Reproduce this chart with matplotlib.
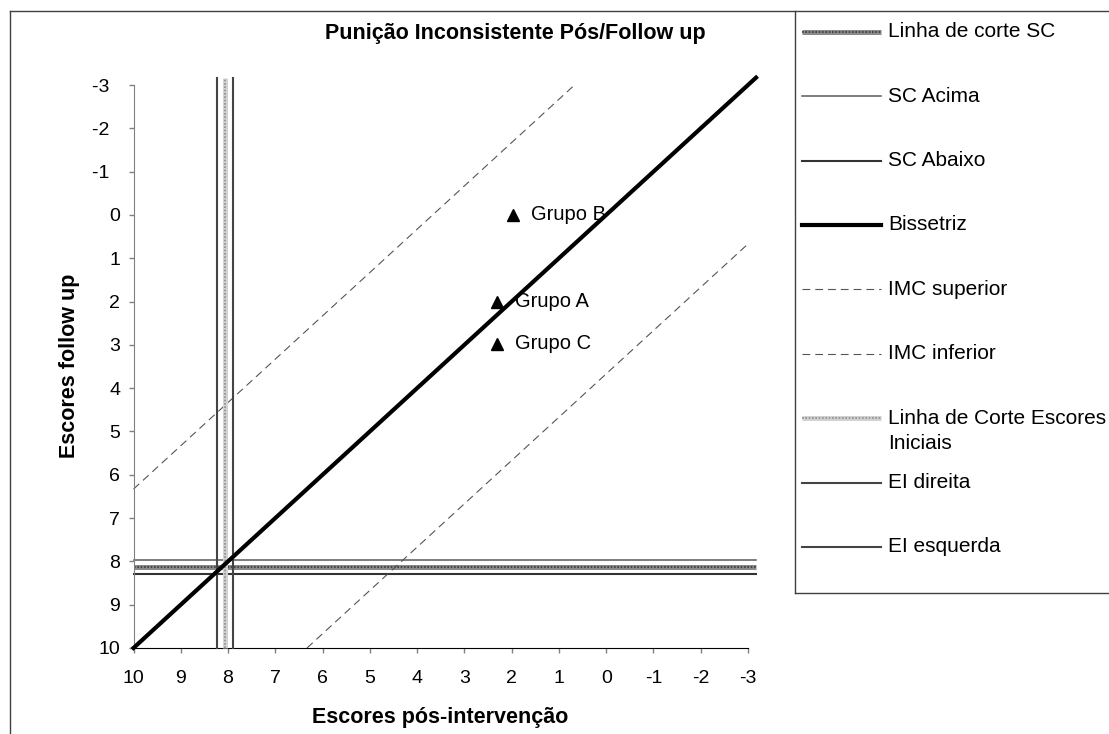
import numpy as np
import matplotlib
matplotlib.use('Agg')
import matplotlib.pyplot as plt
from matplotlib.lines import Line2D
from matplotlib.ticker import FuncFormatter

plt.rcParams['font.family'] = ['Liberation Sans', 'DejaVu Sans']

W, H = 1109, 734

# --- values ---
axis_min, axis_max = -3, 10
line_end = -3.17          # reference lines run a little past the last tick
sc_cut = 8.12             # Linha de corte SC
sc_above = 7.96           # SC Acima
sc_below = 8.28           # SC Abaixo
ei_cut = 8.06             # Linha de Corte Escores Iniciais
ei_right = 7.90           # EI direita
ei_left = 8.23            # EI esquerda
imc_offset = 3.67         # IMC band around the bisector

groups = ['Grupo A', 'Grupo B', 'Grupo C']
group_pos = [2.30, 1.97, 2.30]      # Escores pós-intervenção
group_fu = [2.00, 0.00, 2.98]       # Escores follow up

legend_labels = ['Linha de corte SC', 'SC Acima', 'SC Abaixo', 'Bissetriz',
                 'IMC superior', 'IMC inferior',
                 'Linha de Corte Escores\nIniciais', 'EI direita', 'EI esquerda']

hatch_dark = [dict(color='#8a8a8a', lw=3.6, solid_capstyle='butt'),
              dict(color='#3a3a3a', lw=1.2, ls=(0, (1, 1)))]
hatch_light = [dict(color='#d2d2d2', lw=3.6, solid_capstyle='butt'),
               dict(color='#8e8e8e', lw=1.2, ls=(0, (1, 1)))]
dash = [dict(color='#555555', lw=0.8, ls=(0, (7, 4.5)))]

styles = {
    'Linha de corte SC': hatch_dark,
    'SC Acima': [dict(color='#5a5a5a', lw=1.1)],
    'SC Abaixo': [dict(color='#333333', lw=1.5)],
    'Bissetriz': [dict(color='black', lw=3.0)],
    'IMC superior': dash,
    'IMC inferior': dash,
    'Linha de Corte Escores\nIniciais': hatch_light,
    'EI direita': [dict(color='#444444', lw=1.5)],
    'EI esquerda': [dict(color='#444444', lw=1.5)],
}

span = [axis_max, line_end]
geometry = {
    'Linha de corte SC': (span, [sc_cut, sc_cut]),
    'SC Acima': (span, [sc_above, sc_above]),
    'SC Abaixo': (span, [sc_below, sc_below]),
    'Bissetriz': (span, span),
    'IMC superior': ([axis_max, axis_min + imc_offset], [axis_max - imc_offset, axis_min]),
    'IMC inferior': ([axis_max - imc_offset, axis_min], [axis_max, axis_min + imc_offset]),
    'Linha de Corte Escores\nIniciais': ([ei_cut, ei_cut], span),
    'EI direita': ([ei_right, ei_right], span),
    'EI esquerda': ([ei_left, ei_left], span),
}

fig = plt.figure(figsize=(W / 100, H / 100), dpi=100)
ax = fig.add_axes([133.5 / W, 1 - 648 / H, (748 - 133.5) / W, (648 - 85) / H])

for i, lab in enumerate(legend_labels):
    xs, ys = geometry[lab]
    z = 5 if lab == 'Bissetriz' else 2 + i * 0.1
    for st in styles[lab]:
        ax.plot(xs, ys, clip_on=False, zorder=z, **st)

ax.plot(group_pos, group_fu, '^', color='black', ms=8, ls='none', zorder=6)
for name, x, y in zip(groups, group_pos, group_fu):
    ax.annotate(name, (x, y), xytext=(18, 0), textcoords='offset pixels',
                va='center', ha='left', fontsize=14.5, zorder=6)

ax.set_xlim(axis_max, axis_min)
ax.set_ylim(axis_max, axis_min)
ticks = np.arange(axis_min, axis_max + 1)
ax.set_xticks(ticks)
ax.set_yticks(ticks)
ax.xaxis.set_major_formatter(FuncFormatter(lambda v, p: f'{int(round(v))}'))
ax.yaxis.set_major_formatter(FuncFormatter(
    lambda v, p: f'{int(round(v))}' + ('  ' if v < 0 else '')))
ax.tick_params(axis='both', direction='out', length=3.6, width=1,
               color='#808080', labelsize=14)
ax.tick_params(axis='x', pad=12)
ax.tick_params(axis='y', pad=6)
for s in ['top', 'right']:
    ax.spines[s].set_visible(False)
ax.spines['left'].set_color('#808080')
ax.spines['bottom'].set_color('black')

fig.text(515 / W, 1 - 34 / H, 'Punição Inconsistente Pós/Follow up',
         ha='center', va='center', fontsize=15.5, fontweight='bold')
fig.text(440 / W, 1 - 717 / H, 'Escores pós-intervenção',
         ha='center', va='center', fontsize=15.5, fontweight='bold')
fig.text(70 / W, 1 - 366 / H, 'Escores follow up', rotation=90,
         ha='center', va='center', fontsize=15.5, fontweight='bold')

# chart frame and legend box
border = dict(color='#404040', lw=1, transform=fig.transFigure)
fig.add_artist(Line2D([10 / W, 10 / W], [0, 1 - 11 / H], **border))
fig.add_artist(Line2D([10 / W, 1], [1 - 11 / H, 1 - 11 / H], **border))
fig.add_artist(Line2D([795 / W, 795 / W], [1 - 11 / H, 1 - 593 / H], **border))
fig.add_artist(Line2D([795 / W, 1], [1 - 593 / H, 1 - 593 / H], **border))

# legend entries
for i, lab in enumerate(legend_labels):
    yp = 31.7 + 64.4 * i
    for st in styles[lab]:
        fig.add_artist(Line2D([802 / W, 881 / W], [1 - yp / H, 1 - yp / H],
                              transform=fig.transFigure, **st))
    for k, part in enumerate(lab.split('\n')):
        fig.text(888 / W, 1 - (yp + 25 * k) / H, part, ha='left', va='center',
                 fontsize=15)

fig.savefig('out.png', dpi=100)
